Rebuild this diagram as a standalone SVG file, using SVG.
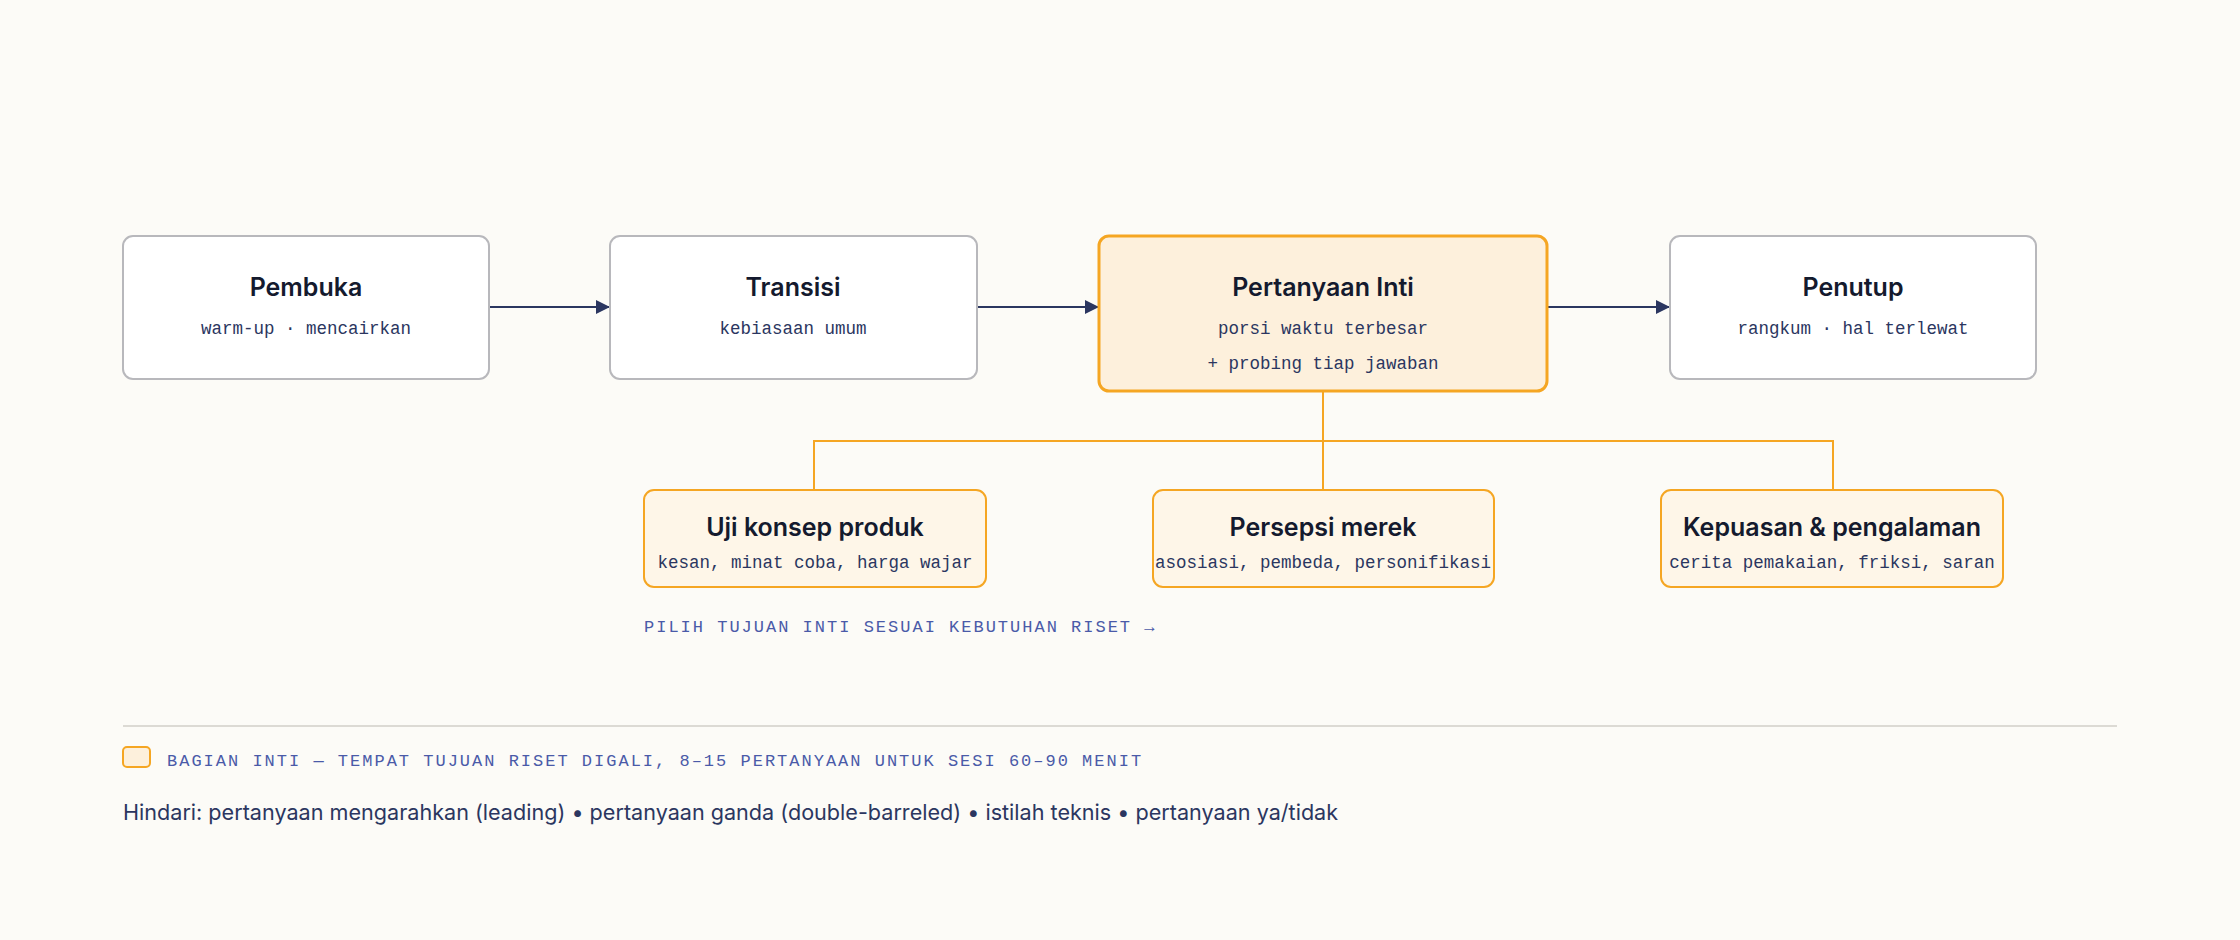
<svg xmlns="http://www.w3.org/2000/svg" width="2240" height="940" viewBox="0 0 2240 940">
<style>
.n{fill:#fff;stroke:#b8b8bc;stroke-width:2}
.c{fill:#fdf0dc;stroke:#f5a623;stroke-width:3}
.s{fill:#fef6e8;stroke:#f5a623;stroke-width:2}
.t{font-family:Inter,"Noto Sans",sans-serif;font-weight:600;font-size:25px;fill:#141a2e;text-anchor:middle}
.st{font-family:"Liberation Mono",monospace;font-size:17.5px;fill:#2b3660;text-anchor:middle}
.lab{font-family:"Liberation Mono",monospace;font-size:17px;fill:#4a5aa8;letter-spacing:2px}
.a{stroke:#2b3660;stroke-width:2;fill:none}
.o{stroke:#f5a623;stroke-width:2;fill:none}
</style>
<defs><marker id="ar2" viewBox="0 0 10 10" refX="10" refY="5" markerWidth="14" markerHeight="14" markerUnits="userSpaceOnUse" orient="auto"><path d="M0,0L10,5L0,10z" fill="#2b3660"/></marker></defs>
<rect width="2240" height="940" fill="#fcfbf7"/>
<g id="connectors">
<line class="a" x1="489" y1="307" x2="610" y2="307" marker-end="url(#ar2)"/>
<line class="a" x1="977" y1="307" x2="1099" y2="307" marker-end="url(#ar2)"/>
<line class="a" x1="1547" y1="307" x2="1670" y2="307" marker-end="url(#ar2)"/>
<path class="o" d="M1323,391V441M814,490V441H1833V490M1323,441V490"/>
</g>
<g id="pembuka"><rect class="n" x="123" y="236" width="366" height="143" rx="10"/><text class="t" x="306" y="296">Pembuka</text><text class="st" x="306" y="334">warm-up · mencairkan</text></g>
<g id="transisi"><rect class="n" x="610" y="236" width="367" height="143" rx="10"/><text class="t" x="793" y="296">Transisi</text><text class="st" x="793" y="334">kebiasaan umum</text></g>
<g id="inti"><rect class="c" x="1099" y="236" width="448" height="155" rx="10"/><text class="t" x="1323" y="296">Pertanyaan Inti</text><text class="st" x="1323" y="334">porsi waktu terbesar</text><text class="st" x="1323" y="369">+ probing tiap jawaban</text></g>
<g id="penutup"><rect class="n" x="1670" y="236" width="366" height="143" rx="10"/><text class="t" x="1853" y="296">Penutup</text><text class="st" x="1853" y="334">rangkum · hal terlewat</text></g>
<g id="uji"><rect class="s" x="644" y="490" width="342" height="97" rx="10"/><text class="t" x="815" y="536">Uji konsep produk</text><text class="st" x="815" y="568">kesan, minat coba, harga wajar</text></g>
<g id="persepsi"><rect class="s" x="1153" y="490" width="341" height="97" rx="10"/><text class="t" x="1323" y="536">Persepsi merek</text><text class="st" x="1323" y="568">asosiasi, pembeda, personifikasi</text></g>
<g id="kepuasan"><rect class="s" x="1661" y="490" width="342" height="97" rx="10"/><text class="t" x="1832" y="536">Kepuasan &amp; pengalaman</text><text class="st" x="1832" y="568">cerita pemakaian, friksi, saran</text></g>
<text class="lab" x="644" y="632">PILIH TUJUAN INTI SESUAI KEBUTUHAN RISET  →</text>
<line x1="123" y1="726" x2="2117" y2="726" stroke="#dcdad4" stroke-width="2"/>
<g id="legend"><rect x="123" y="747" width="27" height="20" rx="4" fill="#fdf0dc" stroke="#f5a623" stroke-width="2"/><text class="lab" x="167" y="766">BAGIAN INTI — TEMPAT TUJUAN RISET DIGALI, 8–15 PERTANYAAN UNTUK SESI 60–90 MENIT</text></g>
<text x="123" y="820" font-family="Inter,'Noto Sans',sans-serif" font-size="21.6" fill="#2b3660">Hindari: pertanyaan mengarahkan (leading) • pertanyaan ganda (double-barreled) • istilah teknis • pertanyaan ya/tidak</text>
</svg>
